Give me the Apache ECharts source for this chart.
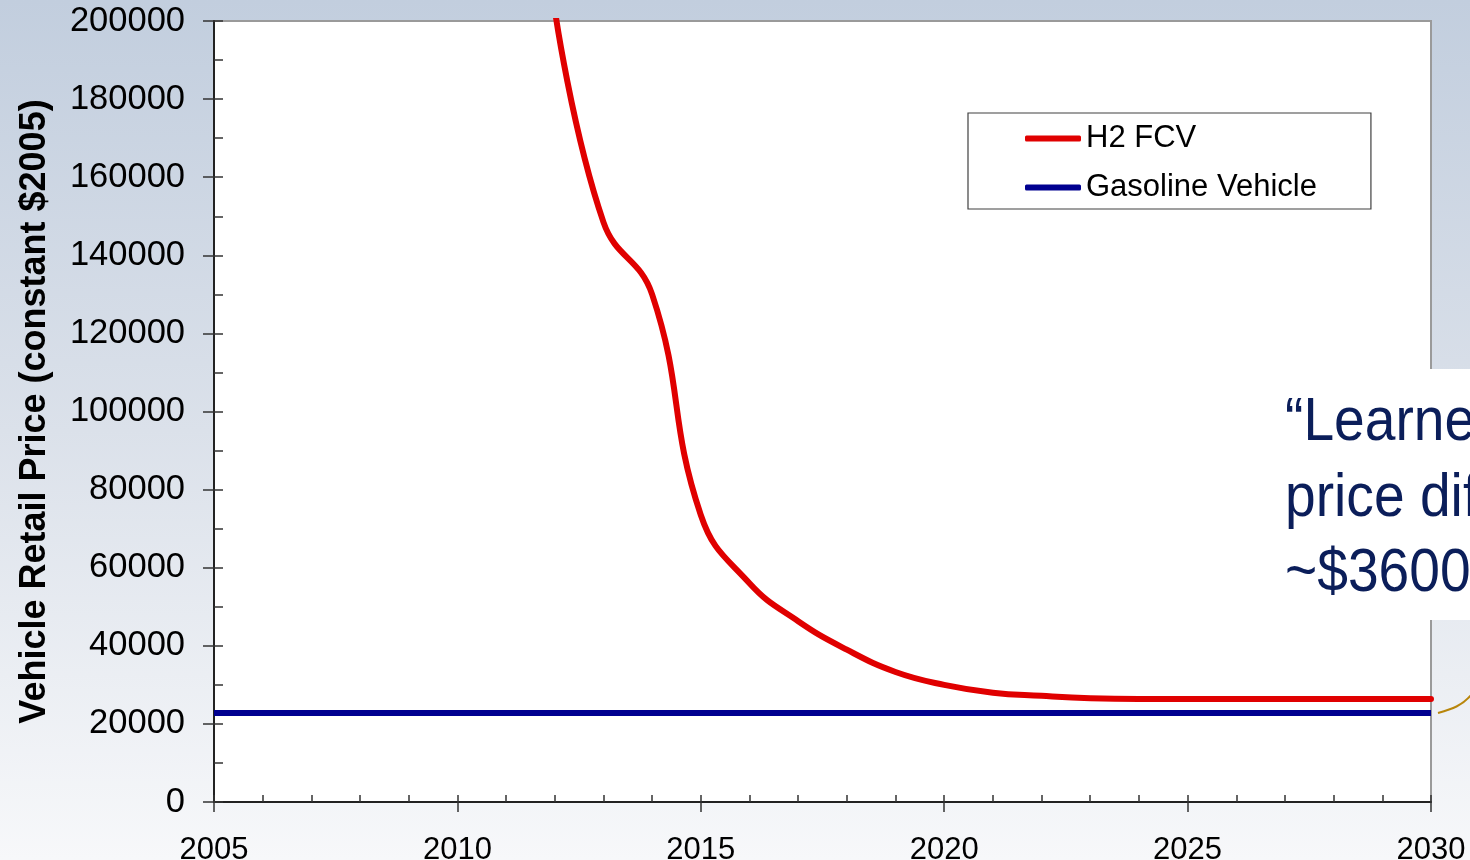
<!DOCTYPE html>
<html>
<head>
<meta charset="utf-8">
<script src="https://cdn.jsdelivr.net/npm/echarts@6/dist/echarts.min.js"></script>
<style>
  html, body { margin: 0; padding: 0; }
  #chart { width: 1470px; height: 860px; }
</style>
</head>
<body>
<div id="chart"></div>
<script>
// Vehicle retail price projections, constant 2005 dollars
const years = [2005, 2006, 2007, 2008, 2009, 2010, 2011, 2012, 2013, 2014,
               2015, 2016, 2017, 2018, 2019, 2020, 2021, 2022, 2023, 2024,
               2025, 2026, 2027, 2028, 2029, 2030];
// H2 fuel cell vehicle: early years are off the top of the scale
const h2Fcv = [null, null, null, null, null, null, null, 203000, 148500, 130000,
               73500, 56000, 46300, 39000, 33300, 30000, 28000, 27200, 26600, 26400,
               26400, 26400, 26400, 26400, 26400, 26400];
const gasoline = [22800, 22800, 22800, 22800, 22800, 22800, 22800, 22800, 22800, 22800,
                  22800, 22800, 22800, 22800, 22800, 22800, 22800, 22800, 22800, 22800,
                  22800, 22800, 22800, 22800, 22800, 22800];
const seriesNames = ['H2 FCV', 'Gasoline Vehicle'];
const yTitle = 'Vehicle Retail Price (constant $2005)';
const calloutLines = ['\u201cLearned-out\u201d', 'price differential', '~$3600'];

const pairs = arr => years.map((y, i) => [y, arr[i]]).filter(p => p[1] !== null);
const plain = v => String(v);

const chart = echarts.init(document.getElementById('chart'), null, { renderer: 'canvas' });

const tickStyle = { color: '#333', width: 1.5 };
const calloutFont = '62px "Liberation Sans", Arial, sans-serif';
const calloutText = (text, y) => ({
  type: 'text', z: 101, x: 1285, y: y, scaleX: 0.89,
  style: { text: text, fill: '#0b1e5a', font: calloutFont, textVerticalAlign: 'bottom' }
});

chart.setOption({
  backgroundColor: {
    type: 'linear', x: 0, y: 0, x2: 0, y2: 1,
    colorStops: [
      { offset: 0, color: '#c2cede' },
      { offset: 0.5, color: '#dbe1ea' },
      { offset: 1, color: '#f7f8fa' }
    ]
  },
  animation: false,
  grid: {
    left: 214, right: 39, top: 21, bottom: 58,
    containLabel: false, outerBoundsMode: 'none',
    show: true, backgroundColor: '#ffffff', borderColor: '#9a9a9a', borderWidth: 2
  },
  legend: {
    orient: 'vertical',
    left: 968, top: 113,
    padding: [10, 54, 6, 57],
    itemGap: 18,
    itemWidth: 56, itemHeight: 6,
    icon: 'roundRect',
    backgroundColor: '#ffffff',
    borderColor: '#404040', borderWidth: 1.2, borderRadius: 0,
    textStyle: { fontFamily: 'Liberation Sans', fontSize: 31, color: '#000', lineHeight: 30 },
    data: seriesNames
  },
  xAxis: [{
    type: 'value', min: 2005, max: 2030, interval: 5,
    axisLine: { show: true, lineStyle: { color: '#222', width: 2 } },
    axisTick: { show: true, length: 10, lineStyle: tickStyle },
    axisLabel: { fontFamily: 'Liberation Sans', fontSize: 31, color: '#000', margin: 33, formatter: plain },
    splitLine: { show: false }
  }, {
    type: 'value', min: 2005, max: 2030, interval: 1, position: 'bottom',
    axisLine: { show: false },
    axisTick: { show: true, inside: true, length: 7, lineStyle: tickStyle },
    axisLabel: { show: false },
    splitLine: { show: false }
  }],
  yAxis: [{
    type: 'value', min: 0, max: 200000, interval: 20000,
    name: yTitle, nameLocation: 'middle', nameGap: 161,
    nameTextStyle: { fontFamily: 'Liberation Sans', fontSize: 36, fontWeight: 'bold', color: '#000' },
    axisLine: { show: true, lineStyle: { color: '#222', width: 2 } },
    axisTick: { show: true, length: 11, lineStyle: tickStyle },
    axisLabel: { fontFamily: 'Liberation Sans', fontSize: 34.5, color: '#000', margin: 29, formatter: plain },
    splitLine: { show: false }
  }, {
    type: 'value', min: 0, max: 200000, interval: 10000, position: 'left',
    axisLine: { show: false },
    axisTick: { show: true, inside: true, length: 9, lineStyle: tickStyle },
    axisLabel: { show: false },
    splitLine: { show: false }
  }],
  series: [{
    name: seriesNames[0], type: 'line', xAxisIndex: 0, yAxisIndex: 0,
    data: pairs(h2Fcv), smooth: 0.45,
    showSymbol: false, clip: true, z: 3,
    lineStyle: { color: '#e00000', width: 6, cap: 'round' },
    itemStyle: { color: '#e00000' }
  }, {
    name: seriesNames[1], type: 'line', xAxisIndex: 0, yAxisIndex: 0,
    data: pairs(gasoline), showSymbol: false, clip: true, z: 2,
    lineStyle: { color: '#000090', width: 6 },
    itemStyle: { color: '#000090' }
  }],
  graphic: [{
    type: 'rect', z: 100,
    shape: { x: 1272, y: 369, width: 200, height: 251 },
    style: { fill: '#ffffff' }
  },
    calloutText(calloutLines[0], 454),
    calloutText(calloutLines[1], 530),
    calloutText(calloutLines[2], 605),
  {
    type: 'bezierCurve', z: 101,
    shape: { x1: 1438, y1: 713, x2: 1472, y2: 694, cpx1: 1452, cpy1: 709, cpx2: 1462, cpy2: 706 },
    style: { stroke: '#b8860b', lineWidth: 2, fill: null }
  }]
});
</script>
</body>
</html>
